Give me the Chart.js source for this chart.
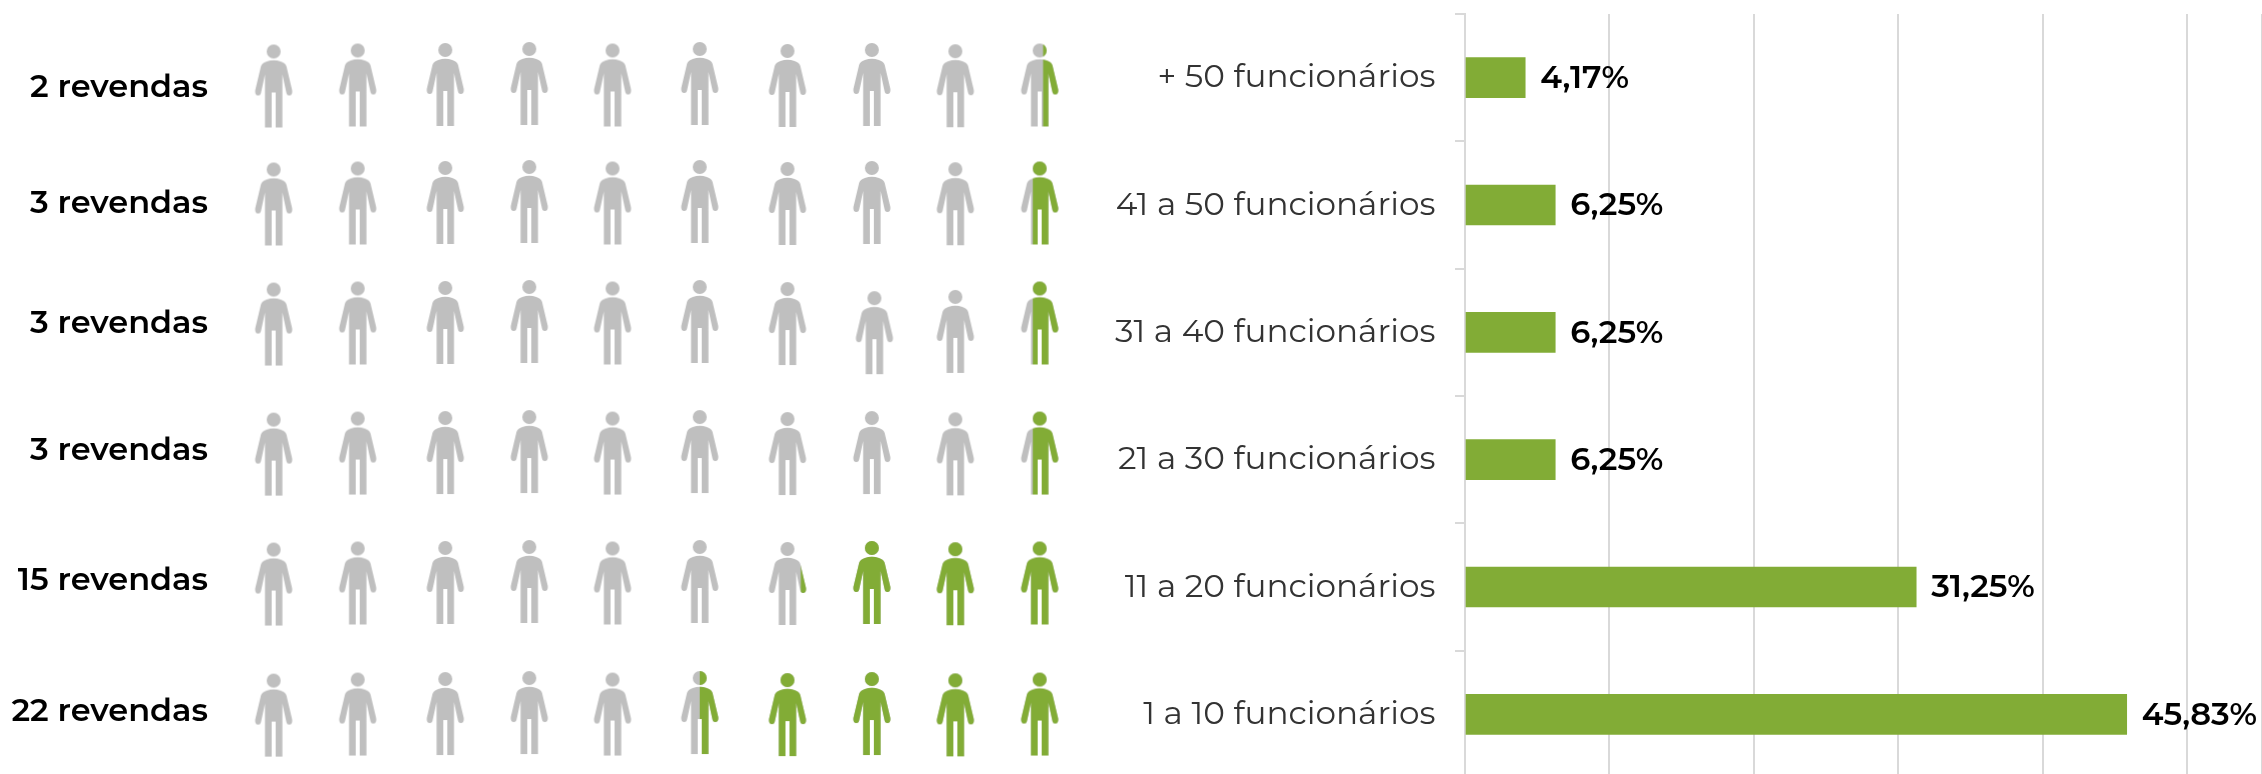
<!DOCTYPE html>
<html><head><meta charset="utf-8"><style>html,body{margin:0;background:#fff;overflow:hidden;width:2262px;height:774px}canvas{position:absolute}</style>
<script src="https://cdn.jsdelivr.net/npm/chart.js@4"></script></head><body>
<canvas id="p" style="left:0;top:0;width:1100px;height:774px" width="1100" height="774"></canvas>
<canvas id="b" style="left:1100px;top:0;width:1162px;height:790px" width="1162" height="790"></canvas>
<script>
const revendas=["2 revendas","3 revendas","3 revendas","3 revendas","15 revendas","22 revendas"];
const faixas=["+ 50 funcionários","41 a 50 funcionários","31 a 40 funcionários","21 a 30 funcionários","11 a 20 funcionários","1 a 10 funcionários"];
const percentuais=[4.17,6.25,6.25,6.25,31.25,45.83];
const rotulos=["4,17%","6,25%","6,25%","6,25%","31,25%","45,83%"];
// pictogram
const pessoasInteiras=[0,0,0,0,3,4];
const fracaoParcial=[0.41,0.68,0.68,0.68,0.15,0.50];
const colunas=[1,1.986,3.014,4,4.977,6,7.03,8.02,9,9.99];
const desvioColuna=[0,-0.008,-0.012,-0.02,-0.008,-0.02,-0.004,-0.012,-0.002,-0.008];
const linhas=[0,0.929,1.874,2.898,3.921,4.953];
const linhasRotulo=[0.006,0.919,1.866,2.866,3.888,4.921];
const deslocados=[{linha:2,col:7,dx:0.03,dy:0.08},{linha:2,col:8,dx:0,dy:0.06}];

const FONT='Montserrat, "Open Sans", Lato, sans-serif';
const GREEN='#82ac36',GREY='#bfbfbf';
function icon(frac){
  const w=42,h=86,c=document.createElement('canvas');c.width=w;c.height=h;
  const body=new Path2D();
  body.arc(21,8,7,0,Math.PI*2);body.closePath();
  body.moveTo(14,18);body.quadraticCurveTo(21,15.5,28,18);body.quadraticCurveTo(33,19.5,33.8,23);
  body.lineTo(39.5,47);body.quadraticCurveTo(40,52,36.5,52);body.quadraticCurveTo(34,52,33.5,48.5);
  body.lineTo(29.7,31);body.lineTo(29.7,84);body.lineTo(23,84);body.lineTo(23,49);body.lineTo(19,49);body.lineTo(19,84);
  body.lineTo(12.3,84);body.lineTo(12.3,31);body.lineTo(8.5,48.5);body.quadraticCurveTo(8,52,5.5,52);body.quadraticCurveTo(2,52,2.5,47);
  body.lineTo(8.2,23);body.quadraticCurveTo(9,19.5,14,18);body.closePath();
  const x=c.getContext('2d');x.fillStyle=GREY;x.fill(body);
  if(frac>0){x.save();x.beginPath();const s=w/2+19*(1-2*frac);x.rect(s,0,w,h);x.clip();x.fillStyle=GREEN;x.fill(body);x.restore();}
  return c;
}
const pontos=[];
revendas.forEach((r,i)=>{
  colunas.forEach((cx,k)=>{
    const daDireita=colunas.length-1-k;
    let f=0;
    if(daDireita<pessoasInteiras[i])f=1;
    else if(daDireita===pessoasInteiras[i])f=fracaoParcial[i];
    const d=deslocados.find(o=>o.linha===i&&o.col===k);
    pontos.push({x:cx+(d?d.dx:0),y:linhas[i]+desvioColuna[k]+(d?d.dy:0),frac:f});
  });
});
new Chart(document.getElementById('p'),{type:'scatter',
 data:{datasets:[{data:pontos,pointStyle:c=>icon(c.raw?c.raw.frac:0),pointRadius:20,pointHoverRadius:20,clip:false}]},
 options:{responsive:false,animation:false,
  layout:{padding:0,autoPadding:false},
  plugins:{legend:{display:false},tooltip:{enabled:false}},
  scales:{
   x:{type:'linear',min:-2.212,max:10.698,display:false},
   y:{type:'linear',min:-0.681,max:5.413,reverse:true,display:false}
  }},
 plugins:[{id:'labels',afterDraw(ch){const g=ch.ctx,y=ch.scales.y;g.save();g.fillStyle='#000';g.font='600 32px '+FONT;g.textAlign='right';g.textBaseline='middle';
   revendas.forEach((t,i)=>g.fillText(t,208,y.getPixelForValue(linhasRotulo[i])));g.restore();}}]
});
new Chart(document.getElementById('b'),{type:'bar',
 data:{labels:faixas,datasets:[{data:percentuais,backgroundColor:GREEN,barThickness:40}]},
 options:{responsive:false,animation:false,indexAxis:'y',layout:{padding:{top:14,right:0,bottom:12,left:0},autoPadding:false},
  plugins:{legend:{display:false},tooltip:{enabled:false}},
  scales:{
   x:{min:0,max:55.2,position:'top',afterFit(s){s.height=0;s.paddingLeft=0;s.paddingRight=0},grid:{color:'#d9d9d9',lineWidth:2,drawTicks:false},border:{display:false},ticks:{display:false,stepSize:10}},
   y:{afterFit(s){s.width=365;s.paddingTop=0;s.paddingBottom=0},grid:{color:'#d9d9d9',lineWidth:2,drawOnChartArea:false,tickLength:10,offset:true},border:{color:'#d9d9d9',width:2},
      ticks:{color:'#333333',font:{family:FONT,size:32.7},padding:19.5}}
  }},
 plugins:[{id:'vals',afterDatasetsDraw(ch){const g=ch.ctx,m=ch.getDatasetMeta(0);g.save();g.fillStyle='#000';g.font='600 32px '+FONT;g.textBaseline='middle';
   m.data.forEach((e,i)=>g.fillText(rotulos[i],e.x+15,e.y+1));g.restore();}}]
});
</script></body></html>
